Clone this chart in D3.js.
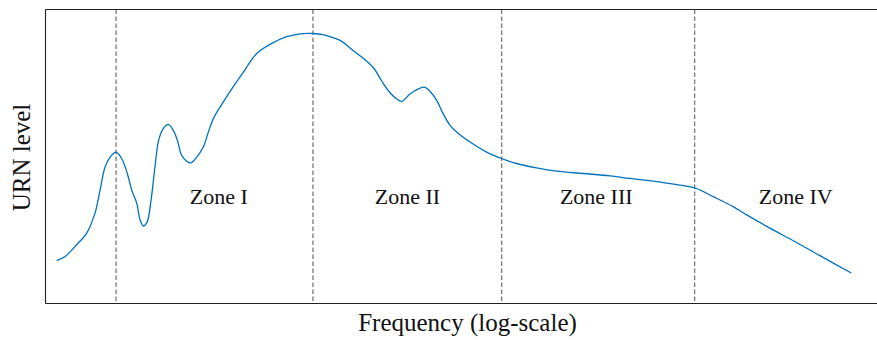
<!DOCTYPE html>
<html>
<head>
<meta charset="utf-8">
<script src="https://cdn.jsdelivr.net/npm/d3@7"></script>
<style>
  html, body { margin: 0; padding: 0; background: #fff; }
  svg { display: block; }
  text { font-family: "Liberation Serif", "DejaVu Serif", serif; fill: #111; }
</style>
</head>
<body>
<svg id="chart" width="877" height="340"></svg>
<script>
// Spectrum: log10(frequency) and radiated noise level (arbitrary units)
const logFreq = [0.958, 1.001, 1.061, 1.113, 1.156, 1.182, 1.208, 1.234, 1.265, 1.294,
  1.323, 1.346, 1.372, 1.389, 1.406, 1.426, 1.446, 1.466, 1.485, 1.509,
  1.535, 1.561, 1.582, 1.604, 1.630, 1.651, 1.673, 1.716, 1.742, 1.768,
  1.819, 1.871, 1.923, 1.974, 2.009, 2.078, 2.147, 2.216, 2.282, 2.336,
  2.371, 2.432, 2.492, 2.543, 2.595, 2.638, 2.673, 2.716, 2.742, 2.785,
  2.828, 2.859, 2.888, 2.923, 2.957, 2.992, 3.026, 3.095, 3.181, 3.259,
  3.336, 3.440, 3.543, 3.681, 3.819, 3.922, 4.043, 4.181, 4.257, 4.353,
  4.456, 4.526, 4.646, 4.784, 4.905, 5.067];
const level = [14.6, 16.0, 20.0, 24.0, 30.8, 38.6, 46.5, 49.9, 51.6, 49.4,
  44.3, 38.6, 34.1, 28.5, 26.4, 27.9, 35.3, 46.5, 55.6, 59.6,
  61.0, 59.0, 55.6, 50.5, 48.5, 47.9, 49.1, 53.3, 58.4, 63.0,
  68.6, 73.9, 78.8, 83.8, 86.1, 88.9, 90.9, 91.9, 92.0, 91.6,
  90.9, 89.3, 86.1, 83.6, 80.4, 75.9, 72.5, 69.7, 68.9, 71.4,
  73.1, 73.7, 72.3, 69.2, 64.6, 60.7, 58.4, 55.0, 51.6, 49.4,
  47.7, 46.2, 45.1, 44.3, 43.5, 42.6, 41.7, 40.3, 39.4, 36.4,
  33.0, 30.2, 25.7, 20.8, 16.3, 10.4];

// Zone boundaries (log10 frequency)
const boundaries = [1.265, 2.283, 3.259, 4.257];

// Zone labels and where they sit
const zoneNames = ["Zone I", "Zone II", "Zone III", "Zone IV"];
const zoneCenters = [1.796, 2.772, 3.748, 4.780];
const zoneLabelLevel = 34;

const xLabel = "Frequency (log-scale)";
const yLabel = "URN level";

const svg = d3.select("#chart");
const margin = { left: 45.5, right: 0, top: 9.5, bottom: 36.5 };
const W = 877, H = 340;

const x = d3.scaleLinear().domain([0.9, 5.2]).range([margin.left, W - margin.right]);
const y = d3.scaleLinear().domain([0, 100]).range([H - margin.bottom, margin.top + 0.5]);

// Zone boundary markers
svg.append("g").selectAll("line").data(boundaries).join("line")
  .attr("x1", d => x(d)).attr("x2", d => x(d))
  .attr("y1", margin.top).attr("y2", H - margin.bottom)
  .attr("stroke", "#7a7a7a").attr("stroke-width", 1.3)
  .attr("stroke-dasharray", "4.5,2.5");

// Noise spectrum
const pts = logFreq.map((f, i) => [f, level[i]]);
svg.append("path").datum(pts)
  .attr("fill", "none").attr("stroke", "#0072bd").attr("stroke-width", 1.3)
  .attr("d", d3.line().x(d => x(d[0])).y(d => y(d[1])).curve(d3.curveCatmullRom.alpha(0.5)));

// Zone labels
svg.append("g").selectAll("text").data(zoneNames).join("text")
  .attr("x", (d, i) => x(zoneCenters[i]))
  .attr("y", y(zoneLabelLevel))
  .attr("text-anchor", "middle")
  .attr("font-size", 22)
  .text(d => d);

// Axes frame (no ticks)
const frame = svg.append("g").attr("stroke", "#222").attr("stroke-width", 1.1).attr("fill", "none");
frame.append("line").attr("x1", margin.left).attr("x2", margin.left).attr("y1", margin.top).attr("y2", H - margin.bottom);
frame.append("line").attr("x1", margin.left).attr("x2", W).attr("y1", margin.top).attr("y2", margin.top);
frame.append("line").attr("x1", margin.left).attr("x2", W).attr("y1", H - margin.bottom).attr("y2", H - margin.bottom);

// Axis titles
svg.append("text")
  .attr("x", 467.5).attr("y", 331)
  .attr("text-anchor", "middle").attr("font-size", 25)
  .text(xLabel);

svg.append("text")
  .attr("transform", `translate(30,${(margin.top + H - margin.bottom) / 2 + 1}) rotate(-90)`)
  .attr("text-anchor", "middle").attr("font-size", 25)
  .text(yLabel);
</script>
</body>
</html>
